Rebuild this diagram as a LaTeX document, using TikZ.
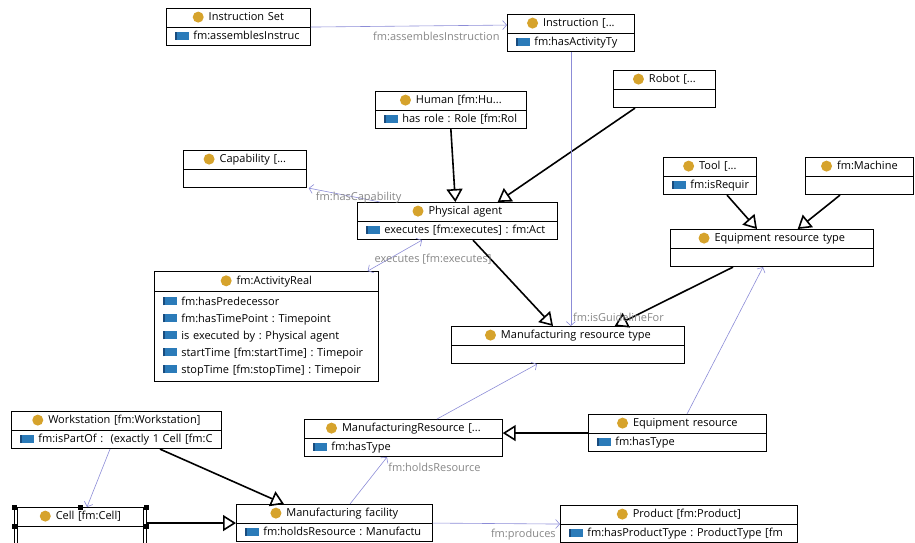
\documentclass[tikz,border=0pt]{standalone}
\usepackage{fontspec}
\setmainfont{Open Sans}
\usetikzlibrary{arrows.meta,shapes.multipart}

\definecolor{classgold}{RGB}{214,163,44}
\definecolor{attrblue}{RGB}{43,123,185}
\definecolor{attrdark}{RGB}{25,75,125}
\definecolor{linkblue}{RGB}{140,140,215}
\definecolor{labelgray}{RGB}{135,135,135}

\newcommand{\clsdot}{\tikz[baseline=-3.8pt]\fill[classgold] (0,0) circle[radius=5.5pt];\hspace{5pt}}
\newcommand{\clshead}[1]{\makebox[\linewidth]{\clsdot #1\strut}}
\newcommand{\attr}{\hspace*{5pt}\textcolor{attrdark}{\rule{2pt}{8pt}}\textcolor{attrblue}{\rule{12pt}{8pt}}\hspace{4pt}}

\begin{document}
\frenchspacing
\begin{tikzpicture}[x=1pt,y=-1pt,>={Straight Barb[length=4pt,width=9pt]}]
  \tikzstyle{cls}=[rectangle split, rectangle split parts=2, draw=black, fill=white, line width=0.7pt, anchor=north west, inner xsep=4pt, inner ysep=1pt, font=\fontsize{11}{16}\selectfont\frenchspacing]
  \tikzstyle{gen}=[-{Triangle[open,length=13pt,width=16pt]}, line width=1.6pt]
  \tikzstyle{assoc}=[->, draw=linkblue, line width=0.6pt]
  \tikzstyle{lbl}=[text=labelgray, font=\fontsize{11}{12}\selectfont, inner sep=1pt]

  \useasboundingbox (0,0) rectangle (915,542);

  % classes
  \node[cls, text width=136pt] (iset)  at (166,8)   {\clshead{Instruction Set} \nodepart{two}\attr fm:assemblesInstruc\strut};
  \node[cls, text width=119pt] (instr) at (507,14)  {\clshead{Instruction [...} \nodepart{two}\attr fm:hasActivityTy\strut};
  \node[cls, text width=94pt]  (robot) at (613,70)  {\clshead{Robot [...} \nodepart{two}\strut};
  \node[cls, text width=143pt] (human) at (375,91)  {\clshead{Human [fm:Hu...} \nodepart{two}\attr has role : Role [fm:Rol\strut};
  \node[cls, text width=115pt] (cap)   at (183,150) {\clshead{Capability [...} \nodepart{two}\strut};
  \node[cls, text width=192pt] (pa)    at (357,202) {\clshead{Physical agent} \nodepart{two}\attr executes [fm:executes] : fm:Act\strut};
  \node[cls, text width=85pt]  (tool)  at (663,157) {\clshead{Tool [...} \nodepart{two}\attr fm:isRequir\strut};
  \node[cls, text width=100pt] (mach)  at (805,157) {\clshead{fm:Machine} \nodepart{two}\strut};
  \node[cls, text width=195pt] (ert)   at (670,229) {\clshead{Equipment resource type} \nodepart{two}\strut};
  \node[cls, text width=216pt, font=\fontsize{11}{17}\selectfont\frenchspacing] (act) at (154,271)
    {\clshead{fm:ActivityReal}
     \nodepart{two}\rule{0pt}{13pt}\attr fm:hasPredecessor\\
     \attr fm:hasTimePoint : Timepoint\\
     \attr is executed by : Physical agent\\
     \attr startTime [fm:startTime] : Timepoir\\
     \attr stopTime [fm:stopTime] : Timepoir\rule[-7pt]{0pt}{7pt}};
  \node[cls, text width=225pt] (mrt)   at (451,326) {\clshead{Manufacturing resource type} \nodepart{two}\strut};
  \node[cls, text width=202pt] (ws)    at (11,411)  {\clshead{Workstation [fm:Workstation]} \nodepart{two}\attr fm:isPartOf :~~(exactly 1 Cell [fm:C\strut};
  \node[cls, text width=190pt] (mres)  at (304,419) {\clshead{ManufacturingResource [...} \nodepart{two}\attr fm:hasType\strut};
  \node[cls, text width=170pt] (eqres) at (588,414) {\clshead{Equipment resource} \nodepart{two}\attr fm:hasType\strut};
  \node[cls, text width=124pt] (cell)  at (14,507)  {\clshead{Cell [fm:Cell]} \nodepart{two}\strut};
  \node[cls, text width=188pt] (mfac)  at (236,504) {\clshead{Manufacturing facility} \nodepart{two}\attr fm:holdsResource : Manufactu\strut};
  \node[cls, text width=229pt] (prod)  at (560,505) {\clshead{Product [fm:Product]} \nodepart{two}\attr fm:hasProductType : ProductType [fm\strut};

  % selected cell
  \draw[line width=0.8pt] ([xshift=3pt]cell.north west) -- ([xshift=3pt]cell.south west)
                          ([xshift=-3pt]cell.north east) -- ([xshift=-3pt]cell.south east);
  \foreach \a in {north west,north,north east,west,east,south west,south,south east}
    \fill (cell.\a) +(-2.5,-2.5) rectangle +(2.5,2.5);

  % subclass links
  \path (human.south) edge[gen] ([xshift=-2pt]pa.north)
        ([xshift=22pt]robot.south west) edge[gen] ([xshift=-60pt]pa.north east)
        ([xshift=116pt]pa.south west) edge[gen] ([xshift=102pt]mrt.north west)
        ([xshift=63pt]ert.south west) edge[gen] ([xshift=-70pt]mrt.north east)
        ([xshift=64pt]tool.south west) edge[gen] ([xshift=87pt]ert.north west)
        ([xshift=35pt]mach.south west) edge[gen] ([xshift=-76pt]ert.north east)
        (eqres.west) edge[gen] (eqres.west -| mres.east)
        ([xshift=149pt]ws.south west) edge[gen] ([xshift=48pt]mfac.north west)
        (mfac.west -| cell.east) edge[gen] (mfac.west);

  % object properties
  \path (iset.east) edge[assoc] node[lbl, below, pos=0.64, yshift=-5pt] {fm:assemblesInstruction} ([yshift=8pt]instr.west)
        (instr.south) edge[assoc] node[lbl, pos=1, anchor=south west, xshift=1pt, yshift=3pt] {fm:isGuidelineFor} (instr.south |- mrt.north)
        ([xshift=23pt]pa.north west) edge[assoc] node[lbl, pos=0.3] {fm:hasCapability} ([xshift=2pt]cap.south east)
        ([xshift=65pt]pa.south west) edge[assoc, <->] node[lbl, pos=0.62, anchor=west, xshift=-15pt] {executes [fm:executes]} ([xshift=-11pt]act.north east)
        ([xshift=99pt]eqres.north west) edge[assoc] ([xshift=93pt]ert.south west)
        ([xshift=133pt]mres.north west) edge[assoc] ([xshift=86pt]mrt.south west)
        ([xshift=114pt]mfac.north west) edge[assoc] node[lbl, pos=1, anchor=north west, yshift=-5pt] {fm:holdsResource} ([xshift=83pt]mres.south west)
        ([xshift=99pt]ws.south west) edge[assoc] ([xshift=73pt]cell.north west)
        (mfac.east) edge[assoc] node[lbl, pos=1, anchor=north east, xshift=-3pt, yshift=-4pt] {fm:produces} (prod.west);
\end{tikzpicture}
\end{document}
